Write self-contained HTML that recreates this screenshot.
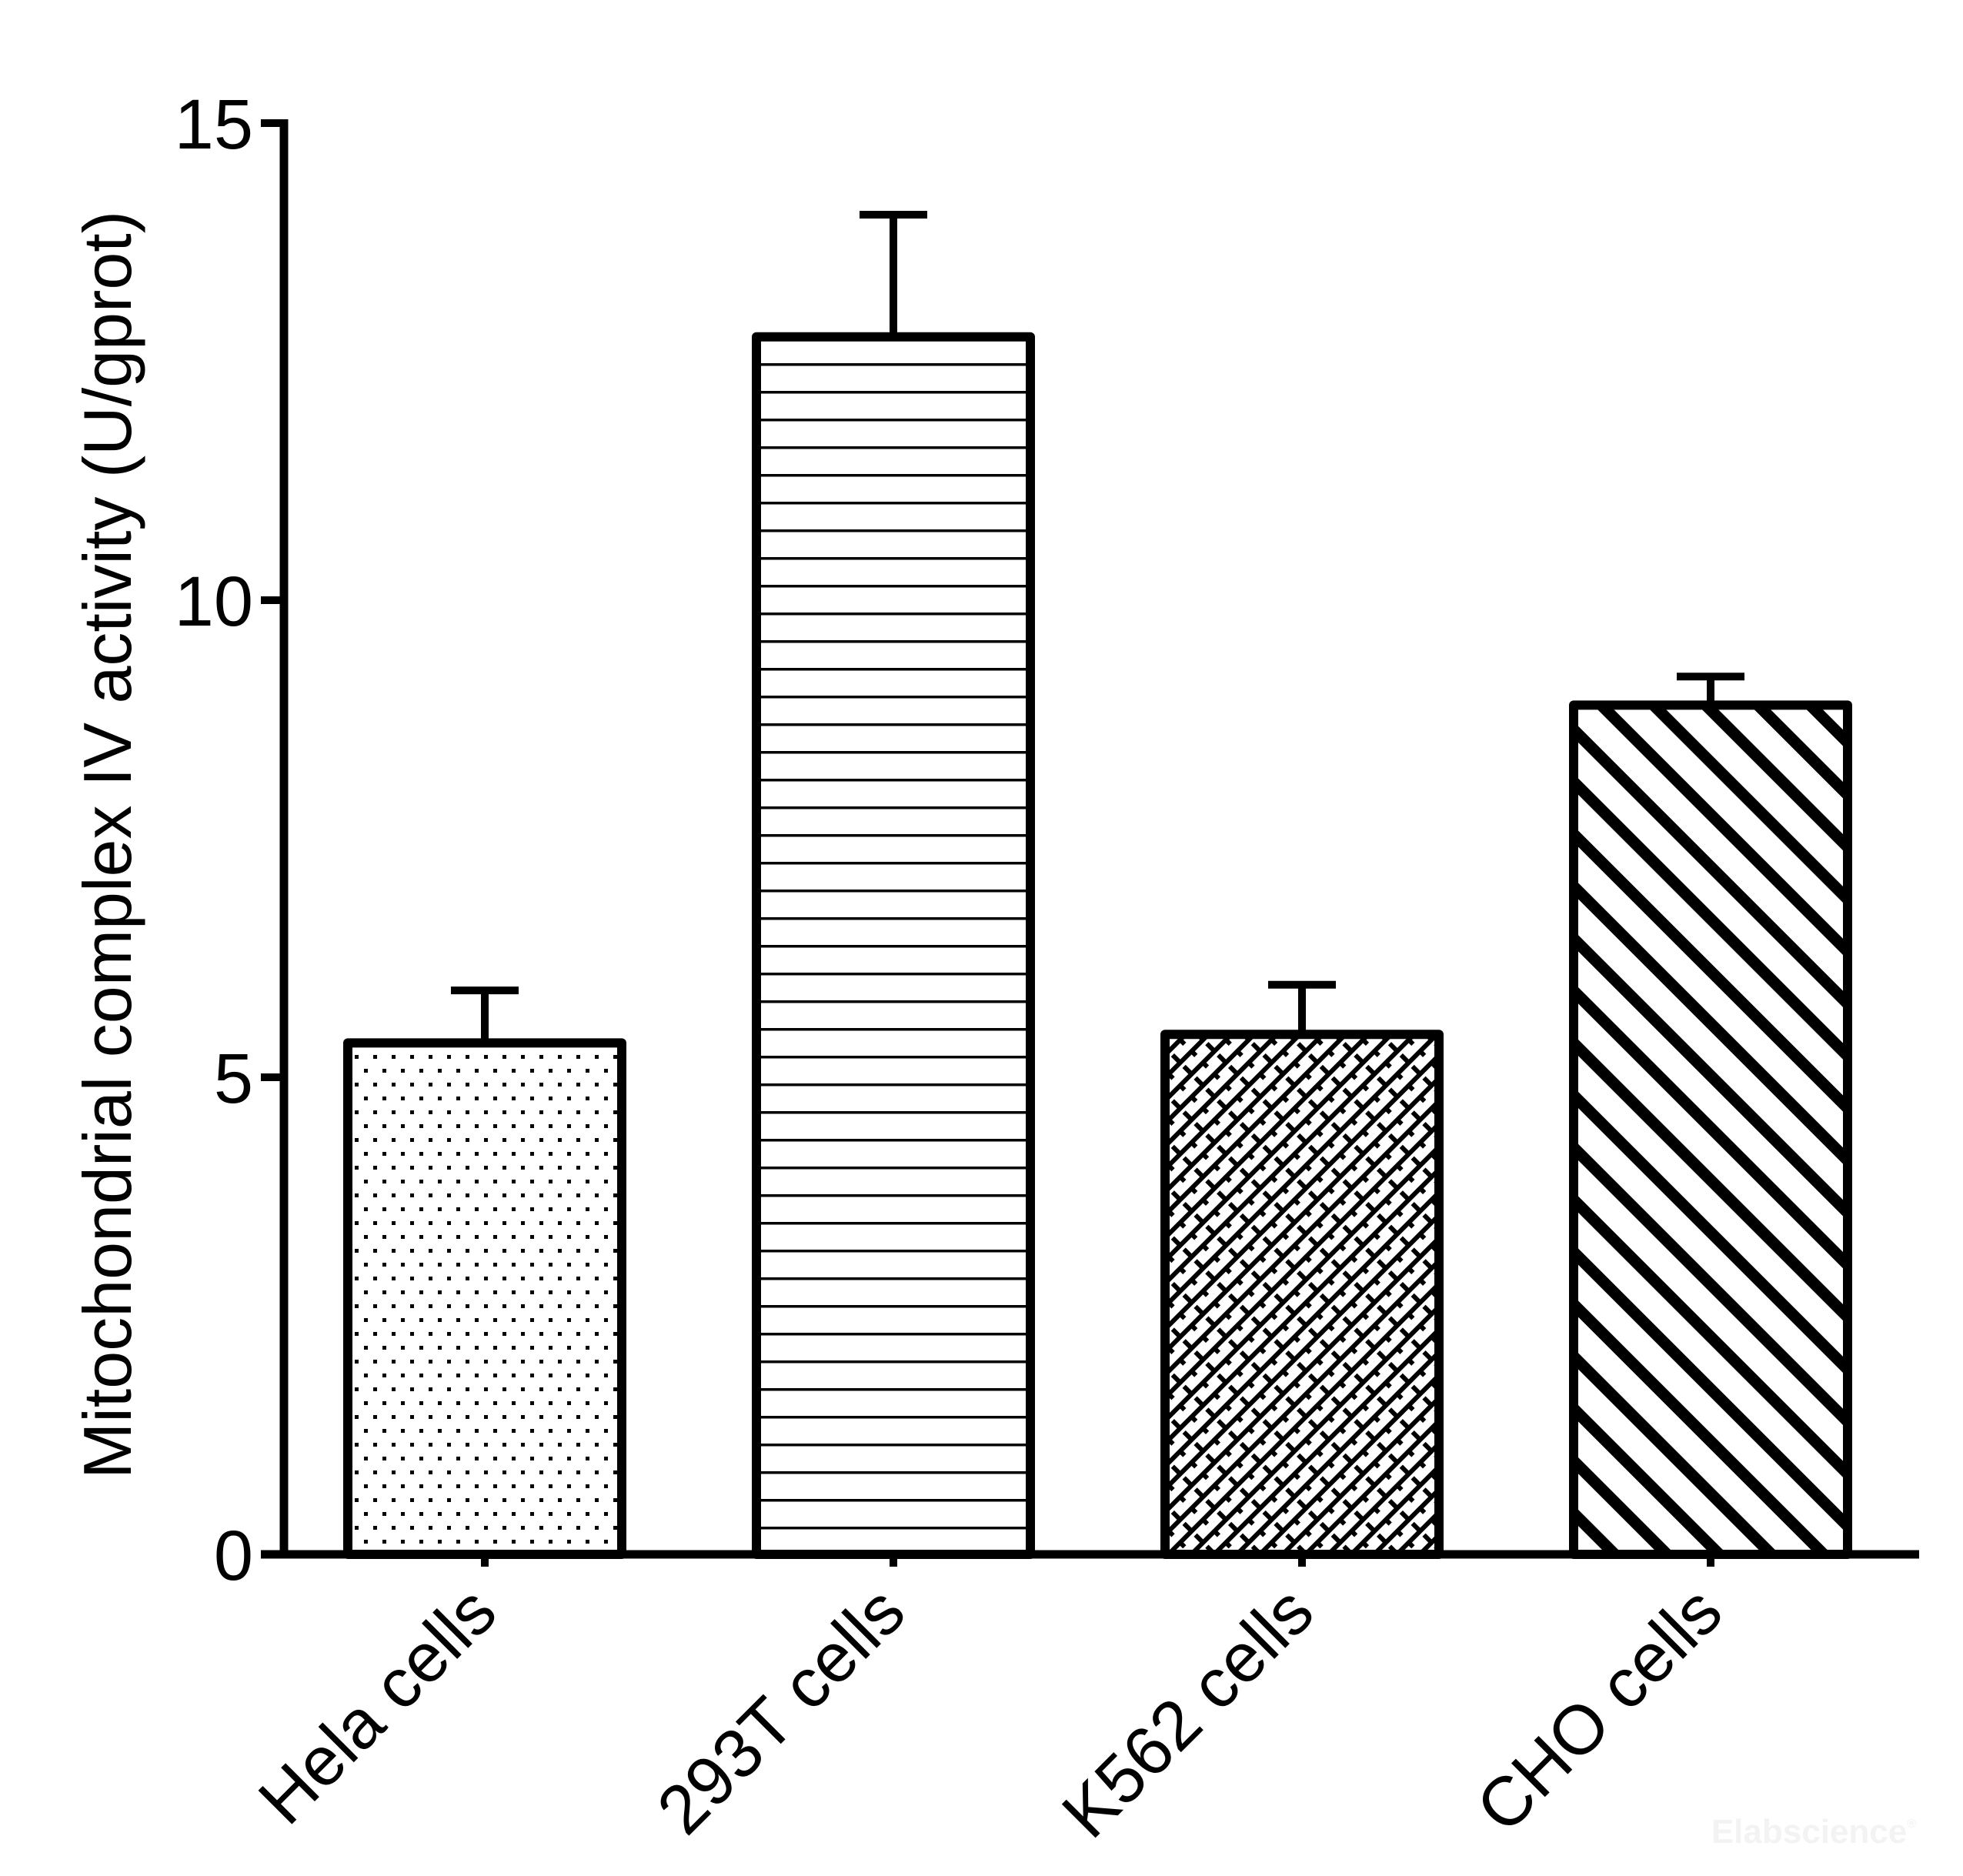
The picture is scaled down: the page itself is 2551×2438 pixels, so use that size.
<!DOCTYPE html>
<html><head><meta charset="utf-8"><style>
html,body{margin:0;padding:0;background:#fff}
svg{display:block}
text{font-family:"Liberation Sans",Arial,sans-serif;fill:#000}
</style></head><body>
<svg id="chart" width="2551" height="2438" viewBox="0 0 2551 2438" xmlns="http://www.w3.org/2000/svg">
<defs>
<pattern id="p-dots" patternUnits="userSpaceOnUse" width="24" height="36" x="451" y="0">
<rect x="10" y="3" width="5" height="5" fill="#000"/><rect x="22" y="21" width="5" height="5" fill="#000"/><rect x="-2" y="21" width="5" height="5" fill="#000"/>
</pattern>
<pattern id="p-hlines" patternUnits="userSpaceOnUse" width="40" height="36" y="2020">
<rect x="0" y="0" width="40" height="3.5" fill="#000"/>
</pattern>
<pattern id="p-brick" patternUnits="userSpaceOnUse" width="42" height="21" patternTransform="rotate(-45)">
<rect x="0" y="0" width="42" height="6" fill="#000"/>
<rect x="0" y="0" width="6" height="11" fill="#000"/>
<rect x="21" y="10" width="6" height="11" fill="#000"/>
</pattern>
<pattern id="p-diag" patternUnits="userSpaceOnUse" width="48" height="48" patternTransform="rotate(-45)">
<rect x="0" y="0" width="15" height="48" fill="#000"/>
</pattern>
</defs>
<g id="plot"></g>
<text transform="translate(170,1098) rotate(-90)" text-anchor="middle" font-size="88">Mitochondrial complex IV activity (U/gprot)</text>
<text x="2490" y="2395" text-anchor="end" font-size="44" font-weight="bold" style="fill:#f3f3f3">Elabscience<tspan font-size="16" dy="-20">®</tspan></text>
</svg>
<script>
const categories = ["Hela cells","293T cells","K562 cells","CHO cells"];
const values = [5.36, 12.76, 5.45, 8.9];
const errors = [0.55, 1.28, 0.52, 0.3];
const yTicks = [0, 5, 10, 15];
const patterns = ["p-dots","p-hlines","p-brick","p-diag"];

const NS = "http://www.w3.org/2000/svg";
const g = document.getElementById("plot");
const x0 = 369, y0 = 2020, yMax = 15, yTop = 160, axisEnd = 2494;
const step = 531, firstC = 630, barW = 356;
const yS = v => y0 - (y0 - yTop) * v / yMax;
const xC = i => firstC + i * step;
function mk(tag, attrs){ const e = document.createElementNS(NS, tag); for (const k in attrs) e.setAttribute(k, attrs[k]); g.appendChild(e); return e; }

categories.forEach((c, i) => {
  const cx = xC(i), top = yS(values[i]), et = yS(values[i] + errors[i]);
  const eb = mk("line", {x1: cx, x2: cx, y1: top, y2: et, stroke: "#000", "stroke-width": 10});
  
  
  const cap = mk("line", {x1: cx - 44, x2: cx + 44, y1: et, y2: et, stroke: "#000", "stroke-width": 10});
  
  
  const r = mk("rect", {x: cx - barW/2, y: top, width: barW, height: y0 - top, fill: "url(#" + patterns[i] + ")", stroke: "#000", "stroke-width": 12, "stroke-linejoin": "round"});
  
  
  const t = mk("line", {x1: cx, x2: cx, y1: y0, y2: y0 + 16, stroke: "#000", "stroke-width": 10});
  
  
  const lb = mk("text", {transform: "translate(" + (cx + 20) + "," + (y0 + 80) + ") rotate(-45)", "text-anchor": "end", "font-size": "90"});
  lb.textContent = c;
  
  
});

yTicks.forEach(v => {
  const y = yS(v);
  const t = mk("line", {x1: x0 - 30, x2: x0, y1: y, y2: y, stroke: "#000", "stroke-width": 10});
  
  
  const lb = mk("text", {x: x0 - 40, y: y + 33, "text-anchor": "end", "font-size": "92"});
  lb.textContent = v;
  
  
});

const ya = mk("line", {x1: x0, x2: x0, y1: yTop - 5, y2: y0 + 5, stroke: "#000", "stroke-width": 11});


const xa = mk("line", {x1: x0 - 30, x2: axisEnd, y1: y0, y2: y0, stroke: "#000", "stroke-width": 11});


</script>
</body></html>
